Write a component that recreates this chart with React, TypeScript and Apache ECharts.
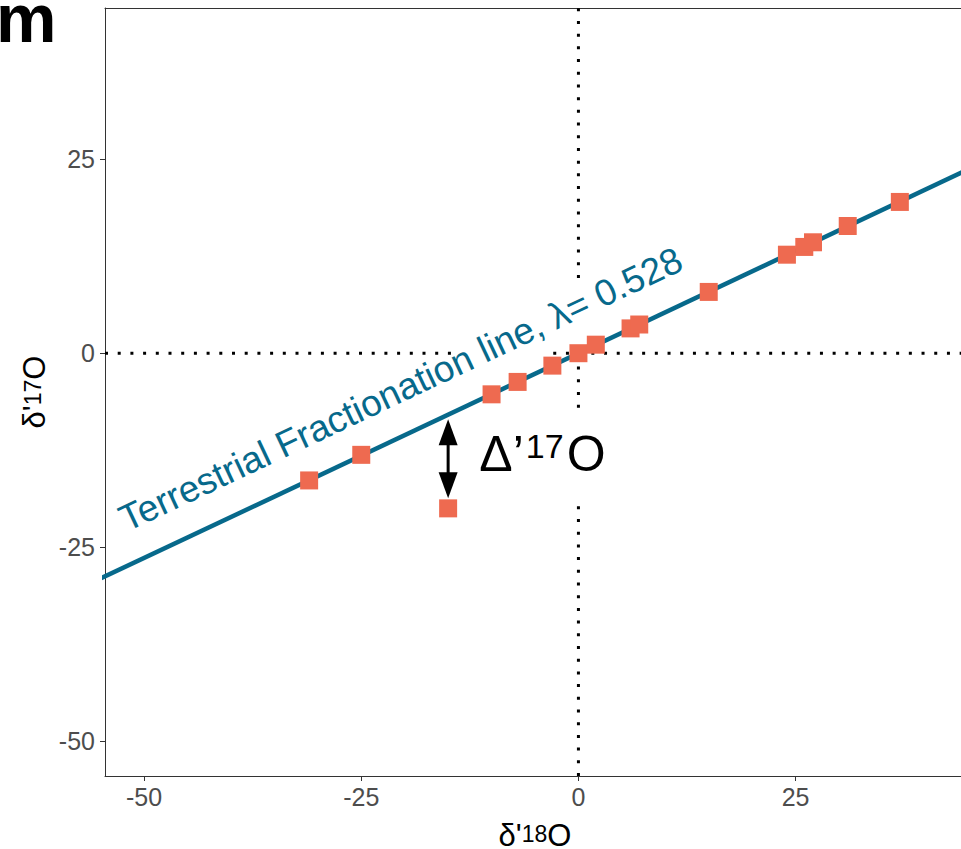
import React, { useEffect, useRef } from "react";
import * as echarts from "echarts";

// ---- data ----
const pointX = [-31, -25, -15, -10, -7, -3, 0, 2, 6, 7, 15, 24, 26, 27, 31, 37];
const pointY = [-16.4, -13.1, -20, -5.3, -3.7, -1.6, 0, 1.1, 3.2, 3.7, 7.9, 12.7, 13.7, 14.3, 16.4, 19.5];
const lambda = 0.528;
const lineXEnds = [-60, 50];
const xLimits = [-54.5, 44.04];
const yLimits = [-54.5, 44.5];
const tickValues = [-50, -25, 0, 25];
// dotted zero lines, drawn in pieces (the label interrupts them)
const hZeroSegments = [[-54.5, -14.6], [-2.9, 44.04]]; // x ranges at y = 0
const vZeroSegments = [[9.7, 44.5], [-54.5, 1.0]]; // y ranges at x = 0
const arrowX = -15;
const arrowFrom = -8.5;
const arrowTo = -18.7;
const lineLabel = "Terrestrial Fractionation line, λ= 0.528";
const lineLabelAnchor = [-52.6, -21.6];
const deltaLabelAnchor = [-12.1, -13.3];

const FONT = "'Liberation Sans', Arial, Helvetica, sans-serif";
const TEAL = "#07698B";
const CORAL = "#EE6A50";
const FRAME = "#333333";

export default function App() {
  const ref = useRef<HTMLDivElement>(null);

  useEffect(() => {
    if (!ref.current) return;
    const chart = echarts.init(ref.current, null, { renderer: "svg" });

    const points = pointX.map((x, i) => [x, pointY[i]]);
    const linePts = lineXEnds.map((x) => [x, x * lambda]);

    const dotted = { color: "#000", width: 3, type: [3, 9.7] as number[] };
    const hSeries = hZeroSegments.map((s) => ({
      type: "line",
      data: [[s[0], 0], [s[1], 0]],
      symbol: "none",
      silent: true,
      z: 1,
      lineStyle: dotted,
    }));
    const vSeries = vZeroSegments.map((s) => ({
      type: "line",
      data: [[0, s[0]], [0, s[1]]],
      symbol: "none",
      silent: true,
      z: 1,
      lineStyle: dotted,
    }));

    const tick = {
      show: true,
      customValues: tickValues,
      length: 5,
      lineStyle: { color: FRAME, width: 1 },
    };
    const label = {
      customValues: tickValues,
      color: "#4D4D4D",
      fontSize: 25,
      fontFamily: FONT,
    };
    const frameLine = { show: true, onZero: false, lineStyle: { color: FRAME, width: 1 } };

    const titleRich = {
      a: { fontSize: 31, fontFamily: FONT, fill: "#000", lineHeight: 26 },
      b: { fontSize: 23, fontFamily: FONT, fill: "#000", lineHeight: 5, verticalAlign: "top" },
    };

    chart.setOption({
      animation: false,
      backgroundColor: "#ffffff",
      grid: {
        left: 105,
        top: 8,
        right: 0,
        bottom: 73,
        show: false,
        containLabel: false,
      },
      xAxis: [
        {
          type: "value",
          position: "bottom",
          min: xLimits[0],
          max: xLimits[1],
          axisLine: frameLine,
          splitLine: { show: false },
          axisTick: tick,
          axisLabel: { ...label, margin: 8 },
        },
        {
          type: "value",
          position: "top",
          min: xLimits[0],
          max: xLimits[1],
          axisLine: frameLine,
          splitLine: { show: false },
          axisTick: { show: false },
          axisLabel: { show: false },
        },
      ],
      yAxis: {
        type: "value",
        position: "left",
        min: yLimits[0],
        max: yLimits[1],
        axisLine: frameLine,
        splitLine: { show: false },
        axisTick: tick,
        axisLabel: { ...label, margin: 10 },
      },
      series: [
        ...hSeries,
        ...vSeries,
        {
          type: "custom",
          z: 2,
          silent: true,
          data: [lineLabelAnchor],
          renderItem: (params: any, api: any) => {
            const p = api.coord([api.value(0), api.value(1)]);
            const a = api.coord([0, 0]);
            const b = api.coord([10, 10 * lambda]);
            const ang = Math.atan2(-(b[1] - a[1]), b[0] - a[0]);
            return {
              type: "text",
              x: p[0],
              y: p[1],
              rotation: ang,
              style: {
                text: lineLabel,
                fill: TEAL,
                fontSize: 37,
                fontFamily: FONT,
                align: "left",
                verticalAlign: "middle",
              },
            };
          },
        },
        {
          type: "line",
          data: linePts,
          symbol: "none",
          silent: true,
          z: 3,
          lineStyle: { color: TEAL, width: 4.5 },
        },
        {
          type: "scatter",
          data: points,
          symbol: "rect",
          symbolSize: 18,
          z: 4,
          itemStyle: { color: CORAL, opacity: 1 },
        },
        {
          type: "custom",
          z: 5,
          silent: true,
          data: [[arrowX, arrowFrom, arrowTo]],
          encode: { x: 0, y: [1, 2] },
          renderItem: (params: any, api: any) => {
            const top = api.coord([api.value(0), api.value(1)]);
            const bot = api.coord([api.value(0), api.value(2)]);
            const hl = 26;
            const hw = 9.5;
            return {
              type: "group",
              children: [
                {
                  type: "line",
                  shape: { x1: top[0], y1: top[1] + hl - 2, x2: bot[0], y2: bot[1] - hl + 2 },
                  style: { stroke: "#000", lineWidth: 3 },
                },
                {
                  type: "polygon",
                  shape: { points: [[top[0], top[1]], [top[0] - hw, top[1] + hl], [top[0] + hw, top[1] + hl]] },
                  style: { fill: "#000" },
                },
                {
                  type: "polygon",
                  shape: { points: [[bot[0], bot[1]], [bot[0] - hw, bot[1] - hl], [bot[0] + hw, bot[1] - hl]] },
                  style: { fill: "#000" },
                },
              ],
            };
          },
        },
        {
          type: "custom",
          z: 6,
          silent: true,
          data: [deltaLabelAnchor],
          renderItem: (params: any, api: any) => {
            const p = api.coord([api.value(0), api.value(1)]);
            return {
              type: "text",
              x: p[0],
              y: p[1],
              style: {
                text: "{m|Δ’}{s|17}{m|O}",
                align: "left",
                verticalAlign: "middle",
                backgroundColor: "#ffffff",
                padding: [20, 6, 24, 6],
                rich: {
                  m: { fontSize: 50, fontFamily: FONT, fill: "#000", lineHeight: 50 },
                  s: { fontSize: 34, fontFamily: FONT, fill: "#000", lineHeight: 19, verticalAlign: "top", padding: [0, 3, 0, 2] },
                },
              },
            };
          },
        },
      ],
      graphic: [
        {
          type: "text",
          x: -4,
          y: 18,
          style: {
            text: "m",
            fontSize: 68,
            fontWeight: "bold",
            fontFamily: FONT,
            fill: "#000",
            align: "left",
            verticalAlign: "middle",
          },
        },
        {
          type: "text",
          x: 535,
          y: 835,
          style: {
            text: "{a|δ'}{b|18}{a|O}",
            align: "center",
            verticalAlign: "middle",
            rich: titleRich,
          },
        },
        {
          type: "text",
          x: 34,
          y: 392,
          rotation: Math.PI / 2,
          style: {
            text: "{a|δ'}{b|17}{a|O}",
            align: "center",
            verticalAlign: "middle",
            rich: titleRich,
          },
        },
      ],
    });

    return () => chart.dispose();
  }, []);

  return (
    <div
      ref={ref}
      style={{ position: "fixed", left: 0, top: 0, width: 961, height: 849, background: "#fff" }}
    />
  );
}
